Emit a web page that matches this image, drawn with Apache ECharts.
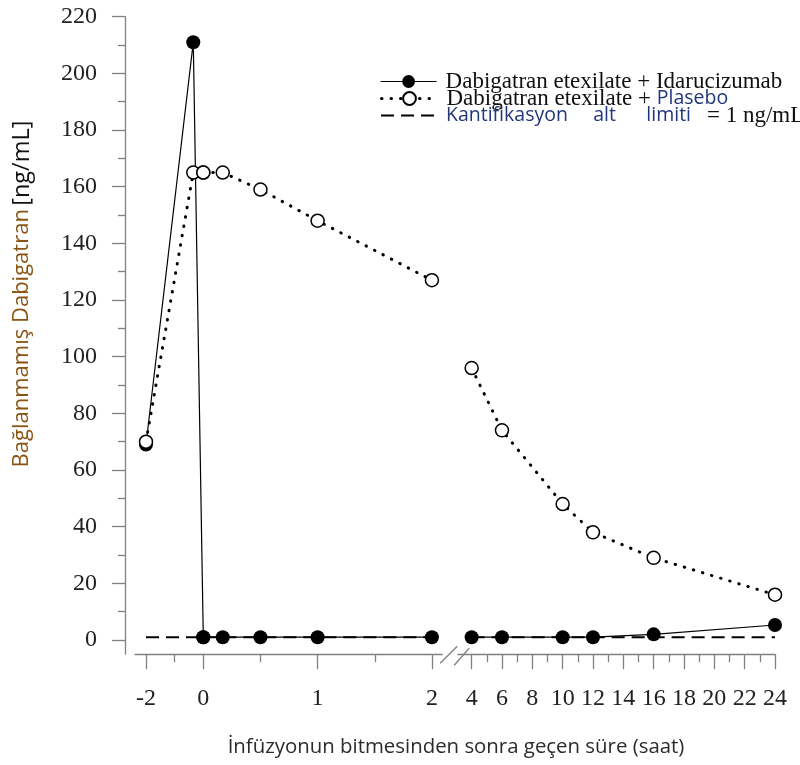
<!DOCTYPE html>
<html><head><meta charset="utf-8">
<script src="https://cdn.jsdelivr.net/npm/echarts@6/dist/echarts.min.js"></script>
<style>html,body{margin:0;padding:0;background:#fff}#c{width:800px;height:765px}</style>
</head><body><div id="c"></div>
<script>
// ---- data (hours after end of infusion, ng/mL) ----
const timeEarly = [-2, -0.35, 0, 0.17, 0.5, 1, 2];
const idaEarly = [69, 211, 1, 1, 1, 1, 1];
const placeboEarly = [70, 165, 165, 165, 159, 148, 127];
const timeLate = [4, 6, 10, 12, 16, 24];
const idaLate = [1, 1, 1, 1, 2, 5.3];
const placeboLate = [96, 74, 48, 38, 29, 16];
const loqValue = 1;
const loqSpanEarly = [-2, 2];
const loqSpanLate = [4, 24];
const yTicks = [0, 20, 40, 60, 80, 100, 120, 140, 160, 180, 200, 220];
const yMinorTicks = [10, 30, 50, 70, 90, 110, 130, 150, 170, 190, 210];
const xTicksA = [-2];
const xMinorA = [-1];
const xTicksB = [0, 1, 2];
const xMinorB = [0.5, 1.5];
const xTicksC = [4, 6, 8, 10, 12, 14, 16, 18, 20, 22, 24];
const xMinorC = [5, 7, 9, 11, 13, 15, 17, 19, 21, 23];
const nameIda = 'Dabigatran etexilate + Idarucizumab';
const namePla = 'Dabigatran etexilate + Plasebo';
const nameLoq = 'Kantifikasyon alt limiti = 1 ng/mL';
const yTitleMain = 'Bağlanmamış Dabigatran';
const yTitleUnit = '[ng/mL]';
const xTitle = 'İnfüzyonun bitmesinden sonra geçen süre (saat)';

// ---- layout ----
const TOP = 16.7, BOTTOM = 110.8;
const gA = {left: 135, width: 68.3, min: -2.384, max: 0};
const gB = {left: 203.3, width: 238.9, min: 0, max: 2.09};
const gC = {left: 458, width: 317, min: 3.1, max: 24};
const Y_MIN = -5, Y_MAX = 220;
const AX = '#808080';
const SERIF = "'Liberation Serif','Times New Roman',serif";
const SANS = "'Open Sans','Noto Sans',sans-serif";

function pairs(xs, ys, lo, hi) {
  const out = [];
  xs.forEach((x, i) => { if (x >= lo && x <= hi) out.push([x, ys[i]]); });
  return out;
}
function spanPts(span, lo, hi) {
  const a = Math.max(span[0], lo), b = Math.min(span[1], hi);
  return [[a, loqValue], [b, loqValue]];
}

const grids = [gA, gB, gC, gA, gB, gC].map(g => ({left: g.left, width: g.width, top: TOP, bottom: BOTTOM}));

function xMain(g, idx, ticks, labels) {
  return {type: 'value', gridIndex: idx, min: g.min, max: g.max, position: 'bottom',
    splitLine: {show: false},
    axisLine: {show: true, onZero: false, lineStyle: {color: AX, width: 1.3}},
    axisTick: {show: true, customValues: ticks, length: 15, lineStyle: {color: AX, width: 1.3}},
    axisLabel: {show: true, customValues: labels, margin: 33, fontFamily: SERIF, fontSize: 24, color: '#222'}};
}
function xMinor(g, idx, ticks) {
  return {type: 'value', gridIndex: idx, min: g.min, max: g.max, position: 'bottom',
    splitLine: {show: false}, axisLine: {show: false, onZero: false},
    axisTick: {show: true, customValues: ticks, length: 8, lineStyle: {color: AX, width: 1.3}},
    axisLabel: {show: false}};
}
function yHidden(idx) {
  return {type: 'value', gridIndex: idx, min: Y_MIN, max: Y_MAX, show: false,
    axisLine: {onZero: false}, splitLine: {show: false}};
}

const xAxes = [
  xMain(gA, 0, xTicksA, xTicksA),
  xMain(gB, 1, xTicksB, xTicksB),
  xMain(gC, 2, xTicksC, xTicksC),
  xMinor(gA, 3, xMinorA),
  xMinor(gB, 4, xMinorB),
  xMinor(gC, 5, xMinorC)
];
const yAxes = [
  {type: 'value', gridIndex: 0, min: Y_MIN, max: Y_MAX, position: 'left', offset: 10,
    splitLine: {show: false},
    axisLine: {show: true, onZero: false, lineStyle: {color: AX, width: 1.3}},
    axisTick: {show: true, customValues: yTicks, length: 13, lineStyle: {color: AX, width: 1.3}},
    axisLabel: {show: true, customValues: yTicks, margin: 28, fontFamily: SERIF, fontSize: 24, color: '#222'}},
  yHidden(1), yHidden(2),
  {type: 'value', gridIndex: 3, min: Y_MIN, max: Y_MAX, position: 'left', offset: 10,
    splitLine: {show: false}, axisLine: {show: false, onZero: false},
    axisTick: {show: true, customValues: yMinorTicks, length: 7, lineStyle: {color: AX, width: 1.3}},
    axisLabel: {show: false}},
  yHidden(4), yHidden(5)
];

const idaStyle = {type: 'line', name: nameIda, symbol: 'circle', symbolSize: 14, clip: false, z: 3,
  itemStyle: {color: '#000'}, lineStyle: {color: '#000', width: 1.2}};
const plaStyle = {type: 'line', name: namePla, symbol: 'circle', symbolSize: 13, clip: false, z: 4,
  itemStyle: {color: '#fff', borderColor: '#000', borderWidth: 1.5},
  lineStyle: {color: '#000', width: 3, type: [0.5, 9], cap: 'round'}};
const loqStyle = {type: 'line', name: nameLoq, symbol: 'none', showSymbol: false, clip: false, z: 2,
  itemStyle: {color: 'rgba(0,0,0,0)'}, lineStyle: {color: '#000', width: 2, type: [13, 7]}};

const series = [
  Object.assign({}, loqStyle, {xAxisIndex: 0, yAxisIndex: 0, data: spanPts(loqSpanEarly, gA.min, 0)}),
  Object.assign({}, loqStyle, {xAxisIndex: 1, yAxisIndex: 1, data: spanPts(loqSpanEarly, 0, gB.max)}),
  Object.assign({}, loqStyle, {xAxisIndex: 2, yAxisIndex: 2, data: spanPts(loqSpanLate, gC.min, gC.max)}),
  Object.assign({}, idaStyle, {xAxisIndex: 0, yAxisIndex: 0, data: pairs(timeEarly, idaEarly, gA.min, 0)}),
  Object.assign({}, idaStyle, {xAxisIndex: 1, yAxisIndex: 1, data: pairs(timeEarly, idaEarly, 0, gB.max)}),
  Object.assign({}, idaStyle, {xAxisIndex: 2, yAxisIndex: 2, data: pairs(timeLate, idaLate, gC.min, gC.max)}),
  Object.assign({}, plaStyle, {xAxisIndex: 0, yAxisIndex: 0, data: pairs(timeEarly, placeboEarly, gA.min, 0)}),
  Object.assign({}, plaStyle, {xAxisIndex: 1, yAxisIndex: 1, data: pairs(timeEarly, placeboEarly, 0, gB.max)}),
  Object.assign({}, plaStyle, {xAxisIndex: 2, yAxisIndex: 2, data: pairs(timeLate, placeboLate, gC.min, gC.max)})
];

const legendRich = {
  s: {fontFamily: SERIF, fontSize: 23, color: '#111'},
  p: {fontFamily: SANS, fontSize: 19.5, color: '#22367a'}
};
function legendFmt(name) {
  if (name === nameIda) return '{s|Dabigatran etexilate + Idarucizumab}';
  if (name === namePla) return '{s|Dabigatran etexilate + }{p|Plasebo}';
  return '{p|Kantifikasyon     alt      limiti  }{s| = 1 ng/mL}';
}
function legendAt(name, top) {
  return {
    orient: 'vertical', left: 380, top: top, padding: 0,
    itemWidth: 56, itemHeight: 16,
    data: [name], selectedMode: false, formatter: legendFmt,
    lineStyle: {width: 'inherit'},
    textStyle: {fontFamily: SERIF, fontSize: 23, color: '#111', padding: [0, 0, 0, 4], rich: legendRich}
  };
}

const breakY = 765 - BOTTOM;
const breakX1 = gB.left + gB.width - 2;
const graphics = [
  {type: 'line', shape: {x1: breakX1, y1: breakY + 9, x2: breakX1 + 17, y2: breakY - 8}, style: {stroke: AX, lineWidth: 1.3}},
  {type: 'line', shape: {x1: breakX1 + 14, y1: breakY + 11, x2: breakX1 + 29, y2: breakY - 6}, style: {stroke: AX, lineWidth: 1.3}},
  {type: 'text', x: 456, y: 747, style: {text: xTitle, fontFamily: SANS, fontSize: 20.4, fill: '#2b2b2b', align: 'center', verticalAlign: 'middle'}},
  {type: 'text', x: 22, y: 294, rotation: Math.PI / 2,
    style: {text: '{a|' + yTitleMain + '} {b|' + yTitleUnit + '}', align: 'center', verticalAlign: 'middle',
      rich: {a: {fontFamily: SANS, fontSize: 22, fill: '#8a5412', color: '#8a5412'},
             b: {fontFamily: SANS, fontSize: 23.5, fill: '#111', color: '#111'}}}}
];

const chart = echarts.init(document.getElementById('c'), null, {renderer: 'canvas'});
chart.setOption({
  animation: false,
  backgroundColor: '#fff',
  grid: grids,
  xAxis: xAxes,
  yAxis: yAxes,
  legend: [legendAt(nameIda, 70), legendAt(namePla, 87), legendAt(nameLoq, 104)],
  series: series,
  graphic: graphics
});
</script>
</body></html>
